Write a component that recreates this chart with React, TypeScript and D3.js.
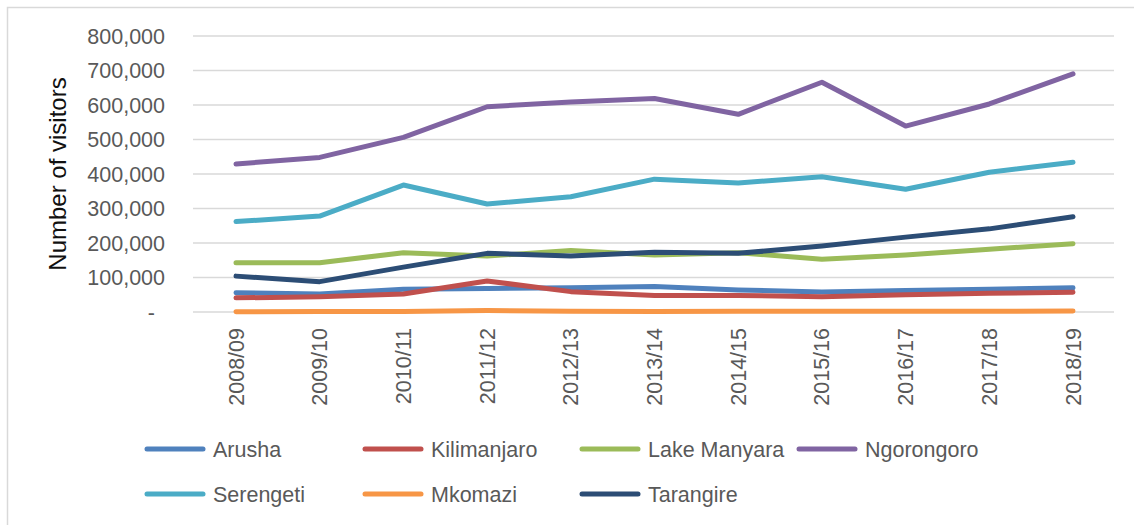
import React from "react";
import * as d3 from "d3";

const categories = ["2008/09","2009/10","2010/11","2011/12","2012/13","2013/14","2014/15","2015/16","2016/17","2017/18","2018/19"];
const arusha = [56000,52000,66000,68000,70000,74000,64000,58000,62000,66000,70000];
const kilimanjaro = [41000,44000,52000,90000,59000,48000,48000,44000,50000,54000,57000];
const lakeManyara = [143000,143000,172000,162000,178000,165000,172000,153000,165000,182000,198000];
const ngorongoro = [429000,448000,506000,595000,609000,619000,573000,666000,539000,603000,690000];
const serengeti = [262000,278000,368000,313000,334000,385000,374000,392000,356000,405000,434000];
const mkomazi = [1000,1200,1500,4000,2000,1800,2000,2200,2500,2000,2800];
const tarangire = [104000,88000,130000,170000,162000,173000,170000,191000,217000,241000,276000];

const seriesNames = ["Arusha","Kilimanjaro","Lake Manyara","Ngorongoro","Serengeti","Mkomazi","Tarangire"];
const seriesValues = [arusha, kilimanjaro, lakeManyara, ngorongoro, serengeti, mkomazi, tarangire];
const seriesColors = ["#4F81BD","#C0504D","#9BBB59","#8064A2","#4BACC6","#F79646","#2C4D75"];
const yTicks = [0,100000,200000,300000,400000,500000,600000,700000,800000];

export default function App() {
  const W = 1134, H = 525;
  const x = d3.scalePoint<string>().domain(categories).range([236, 1073]);
  const y = d3.scaleLinear().domain([0, 800000]).range([312, 36]);
  const line = d3.line<number>().x((_, i) => x(categories[i]) as number).y(d => y(d));
  const fmt = d3.format(",");
  const font = "'Liberation Sans', Arial, sans-serif";
  const legendPos = [
    [147, 449], [365, 449], [582, 449], [799, 449],
    [147, 494], [365, 494], [582, 494],
  ];
  return (
    <svg width={W} height={H} style={{ position: "absolute", left: 0, top: 0, background: "#fff" }}>
      <rect x={0} y={0} width={W} height={H} fill="#fff" />
      <path d={`M7.5,${H + 5} L7.5,7.5 L${W + 5},7.5`} fill="none" stroke="#d9d9d9" strokeWidth={1.5} />
      {yTicks.map(t => (
        <g key={t}>
          <line x1={193} x2={1114} y1={y(t)} y2={y(t)} stroke="#d9d9d9" strokeWidth={1.5} />
          <text x={t === 0 ? 155 : 165} y={y(t)} dy="0.35em" textAnchor="end" fontFamily={font} fontSize={21.5} fill="#595959">
            {t === 0 ? "-" : fmt(t)}
          </text>
        </g>
      ))}
      <text transform={`translate(66,174) rotate(-90)`} textAnchor="middle" fontFamily={font} fontSize={24} fill="#111">
        Number of visitors
      </text>
      {categories.map(c => (
        <text key={c} transform={`translate(${x(c)},328) rotate(-90)`} dy="0.35em" textAnchor="end" fontFamily={font} fontSize={21.5} fill="#595959">
          {c}
        </text>
      ))}
      {seriesValues.map((vals, i) => (
        <path key={seriesNames[i]} d={line(vals) || ""} fill="none" stroke={seriesColors[i]} strokeWidth={5} strokeLinecap="round" strokeLinejoin="round" />
      ))}
      {seriesNames.map((n, i) => (
        <g key={n}>
          <line x1={legendPos[i][0]} x2={legendPos[i][0] + 56} y1={legendPos[i][1]} y2={legendPos[i][1]} stroke={seriesColors[i]} strokeWidth={5} strokeLinecap="round" />
          <text x={legendPos[i][0] + 66} y={legendPos[i][1]} dy="0.35em" fontFamily={font} fontSize={21.5} fill="#595959">{n}</text>
        </g>
      ))}
    </svg>
  );
}
